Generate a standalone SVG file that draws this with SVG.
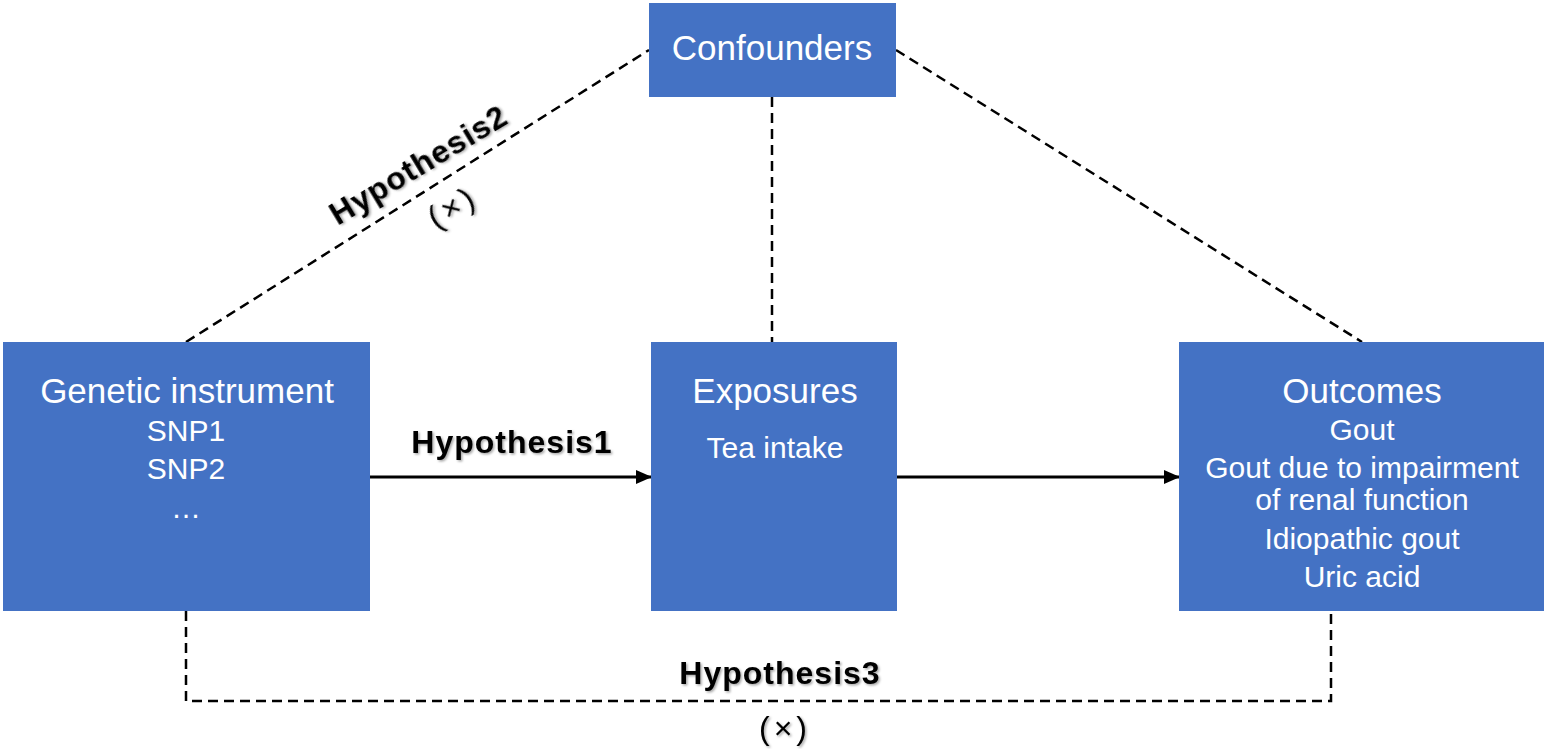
<svg xmlns="http://www.w3.org/2000/svg" width="1547" height="749" viewBox="0 0 1547 749">
<style>
.box{fill:#4472C4;}
.t{font-family:"Liberation Sans",Arial,sans-serif;fill:#fff;text-anchor:middle;}
.title{font-size:35px;}
.item{font-size:30px;}
.lbl{font-family:"Liberation Sans",Arial,sans-serif;font-weight:bold;font-size:32px;fill:#000;text-anchor:middle;letter-spacing:1px;filter:url(#sh);}
.x{font-weight:normal;letter-spacing:4px;}
.dash{fill:none;stroke:#000;stroke-width:2.5;stroke-dasharray:10 6;}
.solid{fill:none;stroke:#000;stroke-width:3;}
</style>
<defs>
<marker id="arr" markerWidth="16" markerHeight="14" refX="15" refY="7" orient="auto" markerUnits="userSpaceOnUse">
<path d="M0,0 L16,7 L0,14 Z" fill="#000"/>
</marker>
<filter id="sh" x="-10%" y="-30%" width="120%" height="160%">
<feDropShadow dx="1.5" dy="1.5" stdDeviation="1.2" flood-color="#000" flood-opacity="0.35"/>
</filter>
</defs>
<rect width="1547" height="749" fill="#fff"/>
<g id="connectors">
<line class="dash" x1="186" y1="342" x2="649" y2="50"/>
<line class="dash" x1="896" y1="50" x2="1362" y2="342"/>
<line class="dash" x1="772" y1="97" x2="772" y2="342"/>
<polyline class="dash" points="186,611 186,701 1331,701 1331,611"/>
<line class="solid" x1="370" y1="477" x2="651" y2="477" marker-end="url(#arr)"/>
<line class="solid" x1="897" y1="477" x2="1179" y2="477" marker-end="url(#arr)"/>
<text class="lbl" x="424" y="174" transform="rotate(-31 424 174)">Hypothesis2</text>
<text class="lbl x" x="458" y="216" transform="rotate(-31 458 216)">(×)</text>
<text class="lbl" x="512" y="453">Hypothesis1</text>
<text class="lbl" x="780" y="684">Hypothesis3</text>
<text class="lbl x" x="785" y="739">(×)</text>
</g>
<g id="confounders">
<rect class="box" x="649" y="3" width="247" height="94"/>
<text class="t title" x="772" y="60">Confounders</text>
</g>
<g id="genetic">
<rect class="box" x="3" y="342" width="367" height="269"/>
<text class="t title" x="187" y="403">Genetic instrument</text>
<text class="t item" x="186" y="441">SNP1</text>
<text class="t item" x="186" y="479">SNP2</text>
<text class="t item" x="186" y="518">…</text>
</g>
<g id="exposures">
<rect class="box" x="651" y="342" width="246" height="269"/>
<text class="t title" x="775" y="403">Exposures</text>
<text class="t item" x="775" y="458">Tea intake</text>
</g>
<g id="outcomes">
<rect class="box" x="1179" y="342" width="365" height="269"/>
<text class="t title" x="1362" y="403">Outcomes</text>
<text class="t item" x="1362" y="440">Gout</text>
<text class="t item" x="1362" y="478">Gout due to impairment</text>
<text class="t item" x="1362" y="510">of renal function</text>
<text class="t item" x="1362" y="549">Idiopathic gout</text>
<text class="t item" x="1362" y="587">Uric acid</text>
</g>
</svg>
